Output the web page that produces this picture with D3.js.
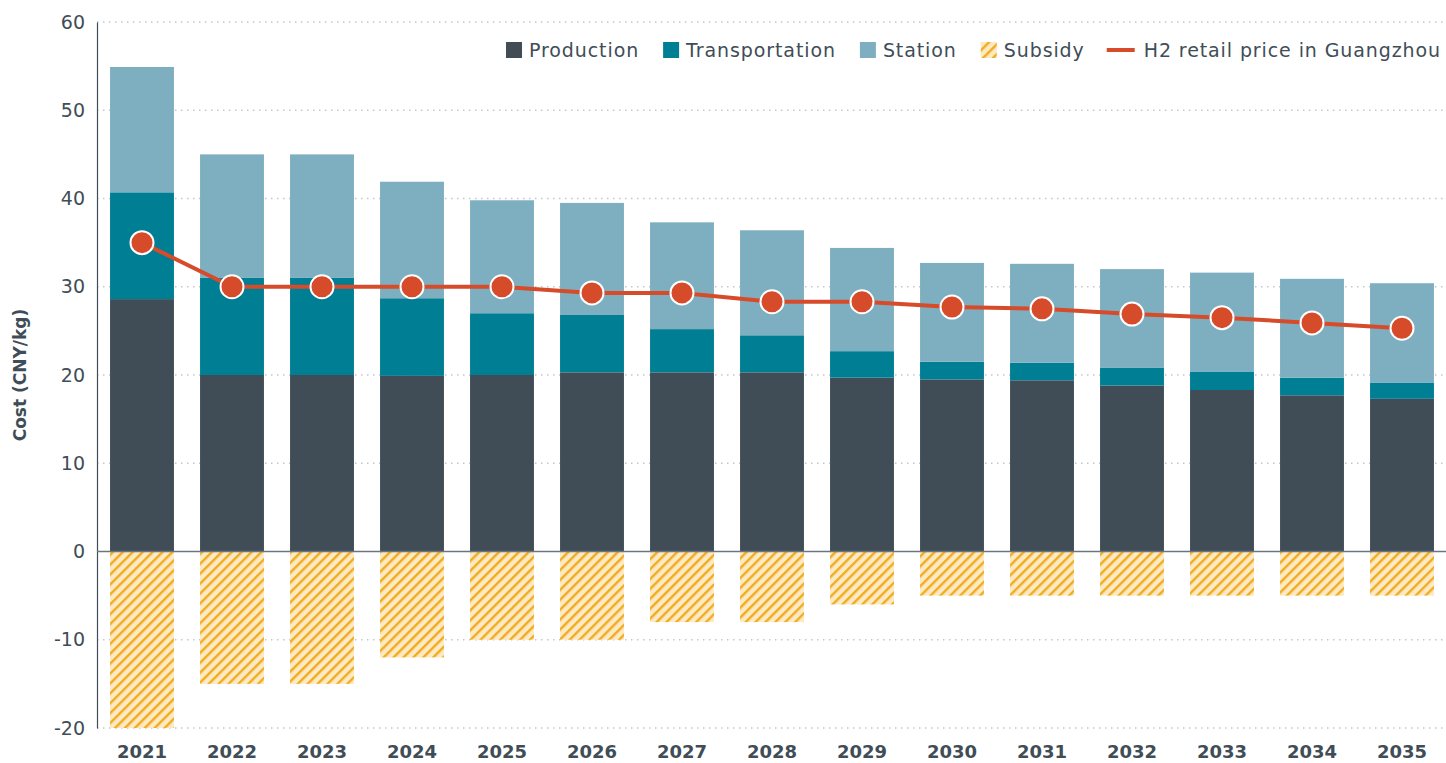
<!DOCTYPE html>
<html>
<head>
<meta charset="utf-8">
<script src="https://cdn.jsdelivr.net/npm/d3@7"></script>
<style>
  body { margin: 0; background: #fff; }
  text { font-family: "DejaVu Sans", sans-serif; fill: #404d57; }
</style>
</head>
<body>
<div class="chart"></div>
<script>
// data
const years = ["2021","2022","2023","2024","2025","2026","2027","2028","2029","2030","2031","2032","2033","2034","2035"];
const production = [28.6, 20.0, 20.0, 19.9, 20.0, 20.3, 20.3, 20.3, 19.7, 19.5, 19.4, 18.8, 18.3, 17.7, 17.3];
const transportation = [12.1, 11.0, 11.0, 8.8, 7.0, 6.5, 4.9, 4.2, 3.0, 2.0, 2.0, 2.0, 2.1, 2.0, 1.8];
const station = [14.2, 14.0, 14.0, 13.2, 12.8, 12.7, 12.1, 11.9, 11.7, 11.2, 11.2, 11.2, 11.2, 11.2, 11.3];
const subsidy = [-20, -15, -15, -12, -10, -10, -8, -8, -6, -5, -5, -5, -5, -5, -5];
const price = [35, 30, 30, 30, 30, 29.3, 29.3, 28.3, 28.3, 27.7, 27.5, 26.9, 26.5, 25.9, 25.3];
const yTicks = [-20, -10, 0, 10, 20, 30, 40, 50, 60];

const W = 1446, H = 763;
const margin = { top: 22, right: 0, bottom: 35, left: 97 };

const colors = { production: "#404d57", transportation: "#007e93", station: "#7eafc0", line: "#d64b2a" };

let svg = d3.select(".chart").append("svg")
  .attr("width", W).attr("height", H);

// hatch for the subsidy bars
let pat = svg.append("defs").append("pattern")
  .attr("id", "hatch")
  .attr("patternUnits", "userSpaceOnUse")
  .attr("width", 7).attr("height", 7)
  .attr("patternTransform", "rotate(45)");
pat.append("rect").attr("width", 7).attr("height", 7).attr("fill", "#fde9c4");
pat.append("rect").attr("x", 0).attr("width", 2.4).attr("height", 7).attr("fill", "#f0ac1d");

let x = d3.scaleBand().domain(years).range([margin.left, 1447]).paddingInner(0.29).paddingOuter(0.145);
let y = d3.scaleLinear().domain([-20, 60]).range([728, margin.top]);

// dotted grid
svg.append("g").selectAll("line").data(yTicks.filter(d => d !== 0)).join("line")
  .attr("x1", margin.left).attr("x2", W)
  .attr("y1", d => y(d)).attr("y2", d => y(d))
  .attr("stroke", "#c4c7ca").attr("stroke-width", 1.3)
  .attr("stroke-dasharray", "1.5,4.5");

// y axis
let yAxis = svg.append("g")
  .attr("transform", "translate(" + margin.left + ",0)")
  .call(d3.axisLeft(y).tickValues(yTicks).tickSize(0).tickPadding(12).tickFormat(d => String(d)));
yAxis.select(".domain").attr("stroke", "#404d57").attr("stroke-width", 1.2);
yAxis.selectAll("text").style("font-size", "19px").style("fill", "#404d57").style("font-family", "DejaVu Sans, sans-serif");

// stacked bars
let stackData = years.map((yr, i) => ({ year: yr, production: production[i], transportation: transportation[i], station: station[i] }));
let stack = d3.stack().keys(["production", "transportation", "station"])(stackData);

svg.append("g").selectAll("g").data(stack).join("g")
  .attr("fill", d => colors[d.key])
  .selectAll("rect").data(d => d).join("rect")
  .attr("x", d => x(d.data.year))
  .attr("width", x.bandwidth())
  .attr("y", d => y(d[1]))
  .attr("height", d => y(d[0]) - y(d[1]));

svg.append("g").selectAll("rect").data(subsidy).join("rect")
  .attr("x", (d, i) => x(years[i]))
  .attr("width", x.bandwidth())
  .attr("y", y(0))
  .attr("height", d => y(d) - y(0))
  .attr("fill", "url(#hatch)");

// zero line
svg.append("line")
  .attr("x1", margin.left).attr("x2", W)
  .attr("y1", y(0)).attr("y2", y(0))
  .attr("stroke", "#6b757d").attr("stroke-width", 1.5);

// x labels
svg.append("g").selectAll("text").data(years).join("text")
  .attr("x", d => x(d) + x.bandwidth() / 2)
  .attr("y", 758)
  .attr("text-anchor", "middle")
  .style("font-size", "18px").style("font-weight", "700")
  .text(d => d);

// price line
let line = d3.line()
  .x((d, i) => x(years[i]) + x.bandwidth() / 2)
  .y(d => y(d));
svg.append("path").datum(price)
  .attr("fill", "none")
  .attr("stroke", colors.line)
  .attr("stroke-width", 4)
  .attr("d", line);
svg.append("g").selectAll("circle").data(price).join("circle")
  .attr("cx", (d, i) => x(years[i]) + x.bandwidth() / 2)
  .attr("cy", d => y(d))
  .attr("r", 11.5)
  .attr("fill", colors.line)
  .attr("stroke", "#fff").attr("stroke-width", 2);

// y title
svg.append("text")
  .attr("transform", "translate(26," + y(20) + ") rotate(-90)")
  .attr("text-anchor", "middle")
  .style("font-size", "17px").style("font-weight", "700")
  .text("Cost (CNY/kg)");

// legend, laid out right to left
let legendItems = [
  { label: "Production", type: "rect", fill: colors.production },
  { label: "Transportation", type: "rect", fill: colors.transportation },
  { label: "Station", type: "rect", fill: colors.station },
  { label: "Subsidy", type: "rect", fill: "url(#hatch)" },
  { label: "H2 retail price in Guangzhou", type: "line", fill: colors.line }
];
let legend = svg.append("g");
let xr = 1441;
for (let k = legendItems.length - 1; k >= 0; k--) {
  let it = legendItems[k];
  let t = legend.append("text").attr("y", 57)
    .style("font-size", "19px").style("letter-spacing", "0.9px")
    .text(it.label);
  let w = t.node().getComputedTextLength();
  t.attr("x", xr - w);
  if (it.type === "line") {
    legend.append("line").attr("x1", xr - w - 37).attr("x2", xr - w - 9)
      .attr("y1", 50).attr("y2", 50).attr("stroke", it.fill).attr("stroke-width", 4);
    xr = xr - w - 37 - 22;
  } else {
    legend.append("rect").attr("x", xr - w - 23).attr("y", 42).attr("width", 16).attr("height", 16).attr("fill", it.fill);
    xr = xr - w - 23 - 24;
  }
}
</script>
</body>
</html>
